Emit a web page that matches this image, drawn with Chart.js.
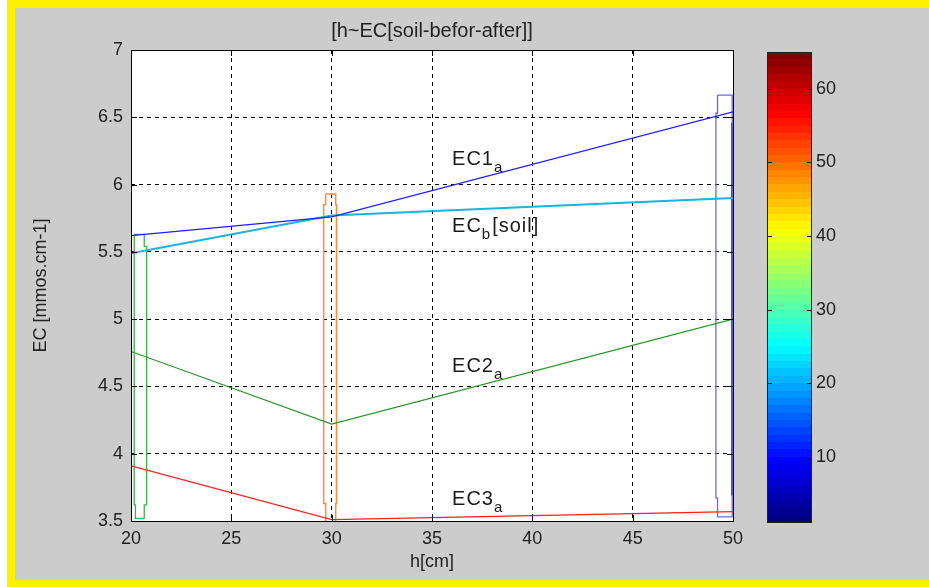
<!DOCTYPE html>
<html>
<head>
<meta charset="utf-8">
<script src="https://cdn.jsdelivr.net/npm/chart.js@4.4.0/dist/chart.umd.min.js"></script>
<style>
body{margin:0;background:#fff;width:929px;height:587px;overflow:hidden;position:relative}
#border{position:absolute;left:7px;top:0;width:922px;height:587px;background:#ffef00}
#panel{position:absolute;left:15px;top:8px;width:914px;height:572px;background:#cccccc}
#main{position:absolute;left:0;top:0}
#cbar{position:absolute;left:740px;top:0}
</style>
</head>
<body>
<div id="border"></div><div id="panel"></div>
<canvas id="main" width="929" height="587"></canvas>
<canvas id="cbar" width="189" height="587"></canvas>
<script>
// depth h [cm]
const hCm = [20, 30, 50];
// EC values
const ec1a = [5.62, 5.76, 6.54];
const ecb  = [5.49, 5.77, 5.90];
const ec2a = [4.76, 4.22, 5.00];
const ec3a = [3.91, 3.51, 3.57];

// outlines of the three tall boxes (data units)
const greenBoxX  = [20.16, 20.66, 20.66, 20.78, 20.78, 20.66, 20.66, 20.22, 20.22, 20.16, 20.16];
const greenBoxY  = [5.63, 5.63, 5.54, 5.54, 3.62, 3.62, 3.52, 3.52, 3.62, 3.62, 5.63];
const orangeBoxX = [29.70, 30.20, 30.20, 30.24, 30.24, 30.20, 30.20, 29.70, 29.70, 29.60, 29.60, 29.70, 29.70];
const orangeBoxY = [5.93, 5.93, 5.85, 5.85, 3.63, 3.63, 3.45, 3.45, 3.63, 3.63, 5.85, 5.85, 5.93];
const blueBoxX   = [49.23, 49.96, 49.96, 49.23, 49.23, 49.15, 49.15, 49.23, 49.23];
const blueBoxY   = [6.665, 6.665, 3.53, 3.53, 3.67, 3.67, 6.53, 6.53, 6.665];
const navyX = [49.97, 49.97];
const navyY = [3.69, 6.46];

const xTicks = [20, 25, 30, 35, 40, 45, 50];
const yTicks = [3.5, 4, 4.5, 5, 5.5, 6, 6.5, 7];
const cbTicks = [10, 20, 30, 40, 50, 60];

Chart.defaults.font.family = '"Liberation Sans", Arial, sans-serif';
Chart.defaults.color = '#222';

function pts(xs, ys) { return xs.map((x, i) => ({x: x, y: ys[i]})); }
function ln(label, xs, ys, color, w) {
  return {label: label, data: pts(xs, ys), borderColor: color, borderWidth: w,
    pointRadius: 0, fill: false, tension: 0, showLine: true};
}

const frameTicks = {
  id: 'frameTicks',
  beforeDraw(chart) {
    const {ctx, chartArea: a} = chart;
    ctx.save();
    ctx.fillStyle = '#fff';
    ctx.fillRect(a.left, a.top, a.right - a.left, a.bottom - a.top);
    // title centred over the axes
    ctx.fillStyle = '#222';
    ctx.font = '20px "Liberation Sans", Arial, sans-serif';
    ctx.textAlign = 'center';
    ctx.textBaseline = 'middle';
    ctx.fillText('[h~EC[soil-befor-after]]', (a.left + a.right) / 2, 31);
    ctx.restore();
  },
  afterDatasetsDraw(chart) {
    const {ctx, chartArea: a, scales} = chart;
    ctx.save();
    ctx.strokeStyle = '#000';
    ctx.lineWidth = 1;
    ctx.setLineDash([]);
    ctx.strokeRect(Math.round(a.left) + 0.5, Math.round(a.top) + 0.5,
      Math.round(a.right - a.left), Math.round(a.bottom - a.top));
    ctx.beginPath();
    xTicks.forEach(v => {
      const px = Math.round(scales.x.getPixelForValue(v)) + 0.5;
      ctx.moveTo(px, a.bottom); ctx.lineTo(px, a.bottom - 6);
      ctx.moveTo(px, a.top); ctx.lineTo(px, a.top + 6);
    });
    yTicks.forEach(v => {
      const py = Math.round(scales.y.getPixelForValue(v)) + 0.5;
      ctx.moveTo(a.left, py); ctx.lineTo(a.left + 6, py);
      ctx.moveTo(a.right, py); ctx.lineTo(a.right - 6, py);
    });
    ctx.stroke();

    // curve names with subscripts
    const notes = [
      {x: 36.0, y: 6.145, main: 'EC1', sub: 'a', rest: ''},
      {x: 36.0, y: 5.647, main: 'EC', sub: 'b', rest: '[soil]'},
      {x: 36.0, y: 4.607, main: 'EC2', sub: 'a', rest: ''},
      {x: 36.0, y: 3.619, main: 'EC3', sub: 'a', rest: ''}
    ];
    ctx.fillStyle = '#1a1a1a';
    ctx.textBaseline = 'alphabetic';
    ctx.textAlign = 'left';
    if ('letterSpacing' in ctx) ctx.letterSpacing = '1px';
    notes.forEach(n => {
      let px = scales.x.getPixelForValue(n.x);
      const py = scales.y.getPixelForValue(n.y);
      ctx.font = '20px "Liberation Sans", Arial, sans-serif';
      ctx.fillText(n.main, px, py);
      px += ctx.measureText(n.main).width;
      ctx.font = '15px "Liberation Sans", Arial, sans-serif';
      ctx.fillText(n.sub, px, py + 7);
      px += ctx.measureText(n.sub).width + 1;
      if (n.rest) {
        ctx.font = '20px "Liberation Sans", Arial, sans-serif';
        ctx.fillText(n.rest, px, py);
      }
    });
    ctx.restore();
  }
};

new Chart(document.getElementById('main'), {
  type: 'line',
  data: {
    datasets: [
      ln('EC1a', hCm, ec1a, '#1f1fff', 1.2),
      ln('ECb', hCm, ecb, '#18b4e0', 2),
      ln('EC2a', hCm, ec2a, '#2a962a', 1.2),
      ln('EC3a', hCm, ec3a, '#ff2020', 1.2),
      ln('box20', greenBoxX, greenBoxY, '#3cb04c', 1.3),
      ln('box30', orangeBoxX, orangeBoxY, '#ff8a3c', 1.5),
      ln('box50', blueBoxX, blueBoxY, '#6868e8', 1.3),
      ln('edge50', navyX, navyY, '#20207a', 2.5)
    ]
  },
  options: {
    responsive: false,
    animation: false,
    layout: {padding: {left: 0, right: 196, top: 50, bottom: 0}},
    plugins: {
      legend: {display: false},
      tooltip: {enabled: false},
      title: {display: false}
    },
    scales: {
      x: {
        type: 'linear', min: 20, max: 50,
        afterBuildTicks: s => { s.ticks = xTicks.map(v => ({value: v})); },
        afterFit: s => { s.height = 66; },
        grid: {color: '#000', lineWidth: 1, drawTicks: false},
        border: {display: false, dash: [4, 4]},
        ticks: {padding: 7, font: {size: 18}, maxRotation: 0, autoSkip: false,
          callback: v => String(v)},
        title: {display: true, text: 'h[cm]', font: {size: 18}, padding: {top: 0, bottom: 14}}
      },
      y: {
        type: 'linear', min: 3.5, max: 7,
        afterBuildTicks: s => { s.ticks = yTicks.map(v => ({value: v})); },
        afterFit: s => { s.width = 131; },
        grid: {color: '#000', lineWidth: 1, drawTicks: false},
        border: {display: false, dash: [4, 4]},
        ticks: {padding: 8, font: {size: 18}, autoSkip: false, callback: v => String(v)},
        title: {display: true, text: 'EC [mmos.cm-1]', font: {size: 18}, padding: {top: 30, bottom: 0}}
      }
    }
  },
  plugins: [frameTicks]
});

// colorbar (jet, 64 colours)
function jet(t) {
  const c = v => Math.round(255 * Math.max(0, Math.min(1, v)));
  return 'rgb(' + c(1.5 - Math.abs(4 * t - 3)) + ',' + c(1.5 - Math.abs(4 * t - 2)) + ',' + c(1.5 - Math.abs(4 * t - 1)) + ')';
}
const jetBar = {
  id: 'jetBar',
  beforeDatasetsDraw(chart) {
    const {ctx, chartArea: a, scales} = chart;
    const y = scales.y;
    ctx.save();
    for (let i = 0; i < 64; i++) {
      const y1 = Math.round(y.getPixelForValue(i + 2));
      const y2 = Math.round(y.getPixelForValue(i + 1));
      ctx.fillStyle = jet(i / 63);
      ctx.fillRect(a.left, y1, a.right - a.left, y2 - y1);
    }
    ctx.restore();
  },
  afterDraw(chart) {
    const {ctx, chartArea: a, scales} = chart;
    ctx.save();
    ctx.strokeStyle = '#222';
    ctx.lineWidth = 1;
    ctx.strokeRect(Math.round(a.left) + 0.5, Math.round(a.top) + 0.5,
      Math.round(a.right - a.left) - 1, Math.round(a.bottom - a.top) - 1);
    ctx.beginPath();
    cbTicks.forEach(v => {
      const py = Math.round(scales.y.getPixelForValue(v)) + 0.5;
      ctx.moveTo(a.left, py); ctx.lineTo(a.left + 5, py);
      ctx.moveTo(a.right, py); ctx.lineTo(a.right - 5, py);
    });
    ctx.stroke();
    ctx.restore();
  }
};

new Chart(document.getElementById('cbar'), {
  type: 'bar',
  data: {labels: [''], datasets: []},
  options: {
    responsive: false,
    animation: false,
    layout: {padding: {left: 27, right: 0, top: 52, bottom: 64}},
    plugins: {legend: {display: false}, tooltip: {enabled: false}},
    scales: {
      x: {display: false},
      y: {
        position: 'right', min: 1, max: 65,
        afterBuildTicks: s => { s.ticks = cbTicks.map(v => ({value: v})); },
        afterFit: s => { s.width = 117; },
        grid: {display: false, drawTicks: false},
        border: {display: false},
        ticks: {padding: 4, font: {size: 18}}
      }
    }
  },
  plugins: [jetBar]
});
</script>
</body>
</html>
